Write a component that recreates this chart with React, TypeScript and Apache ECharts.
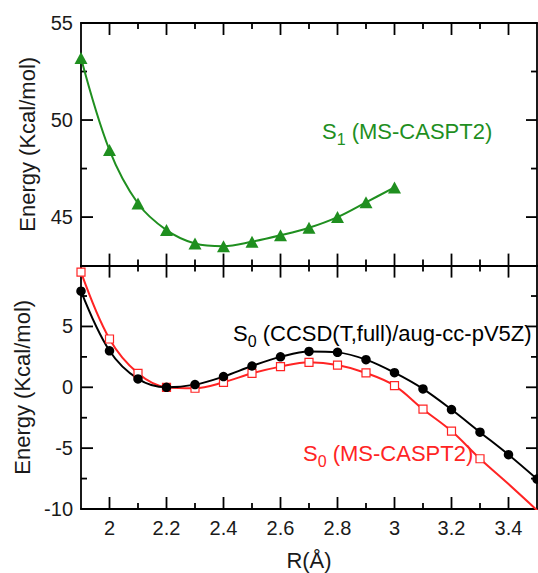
import { useEffect, useRef } from "react";
import * as echarts from "echarts";

// S1 (MS-CASPT2), green triangles
const s1X = [1.9, 2.0, 2.1, 2.2, 2.3, 2.4, 2.5, 2.6, 2.7, 2.8, 2.9, 3.0];
const s1Y = [53.2, 48.45, 45.7, 44.33, 43.64, 43.5, 43.73, 44.06, 44.45, 45.0, 45.76, 46.53];

// S0 CCSD(T,full)/aug-cc-pV5Z, black circles
const ccsdX = [1.9, 2.0, 2.1, 2.2, 2.3, 2.4, 2.5, 2.6, 2.7, 2.8, 2.9, 3.0, 3.1, 3.2, 3.3, 3.4, 3.5];
const ccsdY = [7.9, 3.0, 0.69, 0.0, 0.22, 0.88, 1.75, 2.5, 2.95, 2.87, 2.27, 1.2, -0.13, -1.83, -3.69, -5.54, -7.54];

// S0 MS-CASPT2, red open squares (markers) + line continuation without markers
const casX = [1.9, 2.0, 2.1, 2.2, 2.3, 2.4, 2.5, 2.6, 2.7, 2.8, 2.9, 3.0, 3.1, 3.2, 3.3];
const casY = [9.46, 3.97, 1.15, 0.0, -0.08, 0.41, 1.15, 1.7, 2.05, 1.83, 1.18, 0.14, -1.8, -3.6, -5.87];
const casTailX = [3.4, 3.5];
const casTailY = [-7.95, -10.1];

// ticks
const xMajor = [2, 2.2, 2.4, 2.6, 2.8, 3, 3.2, 3.4];
const xMinor = [2.1, 2.3, 2.5, 2.7, 2.9, 3.1, 3.3];
const topYMajor = [45, 50, 55];
const topYMinor = [47.5, 52.5];
const botYMajor = [-10, -5, 0, 5];
const botYMinor = [-7.5, -2.5, 2.5, 7.5];

const FONT = "Liberation Sans, Arial, Helvetica, sans-serif";
const GREEN = "#1f8f1f";
const RED = "#ff2424";
const INK = "#1a1a1a";

export default function App() {
  const ref = useRef<HTMLDivElement>(null);
  useEffect(() => {
    document.body.style.margin = "0";
    document.body.style.background = "#fff";
    const chart = echarts.init(ref.current!, null, { renderer: "svg" });

    const mkLine = () => ({ show: true, onZero: false, lineStyle: { color: "#000", width: 1.8 } });
    const labelStyle = () => ({ fontSize: 20, color: INK, fontFamily: FONT });
    const nameStyle = () => ({ fontSize: 22, color: INK, fontFamily: FONT });

    const mkX = (grid: number, pos: string, labels: boolean, name?: string) => ({
      type: "value",
      gridIndex: grid,
      position: pos,
      min: 1.9,
      max: 3.5,
      axisLine: mkLine(),
      splitLine: { show: false },
      axisTick: { show: false },
      axisLabel: labels ? { show: true, customValues: xMajor, margin: 9, ...labelStyle() } : { show: false },
      name: name || "",
      nameLocation: "middle",
      nameGap: 40,
      nameTextStyle: nameStyle(),
    });
    const mkY = (grid: number, pos: string, min: number, max: number, labels: number[] | null, name?: string) => ({
      type: "value",
      gridIndex: grid,
      position: pos,
      min,
      max,
      axisLine: mkLine(),
      splitLine: { show: false },
      axisTick: { show: false },
      axisLabel: labels ? { show: true, customValues: labels, margin: 8, ...labelStyle() } : { show: false },
      name: name || "",
      nameLocation: "middle",
      nameGap: 43,
      nameTextStyle: nameStyle(),
    });

    const xAxis = [
      mkX(0, "bottom", false),
      mkX(0, "top", false),
      mkX(1, "bottom", true, "R(Å)"),
      mkX(1, "top", false),
    ];
    const yAxis = [
      mkY(0, "left", 42.5, 55, topYMajor, "Energy (Kcal/mol)"),
      mkY(0, "right", 42.5, 55, null),
      mkY(1, "left", -10, 10, botYMajor.filter((v) => v < 10), "Energy (Kcal/mol)"),
      mkY(1, "right", -10, 10, null),
    ];

    const zip = (xs: number[], ys: number[]) => xs.map((x, i) => [x, ys[i]]);

    const casLine = [
      ...zip(casX, casY).map((v) => ({ value: v })),
      ...zip(casTailX, casTailY).map((v) => ({ value: v, symbol: "none" })),
    ];

    const TW = 1.8;
    // inward ticks on top and bottom edges of a grid, placed through the x scale
    const xTickSeries = (ai: number, yRef: number) => ({
      type: "custom",
      xAxisIndex: ai,
      yAxisIndex: ai,
      clip: false,
      data: [...xMajor.map((v) => [v, yRef, 1]), ...xMinor.map((v) => [v, yRef, 0])],
      renderItem: (params: any, api: any) => {
        const p = api.coord([api.value(0), api.value(1)]);
        const cs = params.coordSys;
        const len = api.value(2) === 1 ? 12 : 6;
        const x = p[0] - TW / 2;
        return {
          type: "group",
          children: [
            { type: "rect", shape: { x: x, y: cs.y + cs.height - len, width: TW, height: len }, style: { fill: "#000" } },
            { type: "rect", shape: { x: x, y: cs.y, width: TW, height: len }, style: { fill: "#000" } },
          ],
        };
      },
    });
    // inward ticks on left and right edges of a grid, placed through the y scale
    const yTickSeries = (ai: number, majors: number[], minors: number[]) => ({
      type: "custom",
      xAxisIndex: ai,
      yAxisIndex: ai,
      clip: false,
      data: [...majors.map((v) => [2.5, v, 1]), ...minors.map((v) => [2.5, v, 0])],
      renderItem: (params: any, api: any) => {
        const p = api.coord([api.value(0), api.value(1)]);
        const cs = params.coordSys;
        const major = api.value(2) === 1;
        const y = p[1] - TW / 2;
        const lenL = major ? 12 : 6;
        const lenR = major ? 11 : 6;
        return {
          type: "group",
          children: [
            { type: "rect", shape: { x: cs.x, y: y, width: lenL, height: TW }, style: { fill: "#000" } },
            { type: "rect", shape: { x: cs.x + cs.width - lenR, y: y, width: lenR, height: TW }, style: { fill: "#000" } },
          ],
        };
      },
    });

    const sub = (color: string) => ({
      a: { fontSize: 22, lineHeight: 26, fontFamily: FONT, fill: color, verticalAlign: "bottom" },
      s: { fontSize: 16, height: 5, lineHeight: 26, fontFamily: FONT, fill: color, verticalAlign: "bottom" },
    });

    const option = {
      animation: false,
      grid: [
        { left: 81, top: 23, width: 456, height: 242.6, outerBoundsMode: "none" },
        { left: 81, top: 265.6, width: 456, height: 243.4, outerBoundsMode: "none" },
      ],
      xAxis,
      yAxis,
      series: [
        xTickSeries(0, 50),
        xTickSeries(2, 0),
        yTickSeries(0, topYMajor, topYMinor),
        yTickSeries(2, botYMajor, botYMinor),
        {
          type: "line",
          xAxisIndex: 0,
          yAxisIndex: 0,
          data: zip(s1X, s1Y),
          smooth: 0.35,
          symbol: "triangle",
          symbolSize: [13, 12],
          lineStyle: { color: GREEN, width: 2 },
          itemStyle: { color: GREEN },
          clip: false,
        },
        {
          type: "line",
          xAxisIndex: 2,
          yAxisIndex: 2,
          data: casLine,
          smooth: 0.35,
          symbol: "rect",
          symbolSize: 8,
          showAllSymbol: true,
          lineStyle: { color: RED, width: 2 },
          itemStyle: { color: "#fff", borderColor: RED, borderWidth: 1.2 },
        },
        {
          type: "line",
          xAxisIndex: 2,
          yAxisIndex: 2,
          data: zip(ccsdX, ccsdY),
          smooth: 0.35,
          symbol: "circle",
          symbolSize: 9.5,
          showAllSymbol: true,
          lineStyle: { color: "#000", width: 2 },
          itemStyle: { color: "#000" },
          clip: false,
        },
      ],
      graphic: [
        {
          type: "text",
          left: 322,
          top: 120,
          style: { text: "{a|S}{s|1}{a| (MS-CASPT2)}", fill: GREEN, rich: sub(GREEN) },
        },
        {
          type: "text",
          left: 233,
          top: 322,
          style: { text: "{a|S}{s|0}{a| (CCSD(T,full)/aug-cc-pV5Z)}", fill: "#000", rich: sub("#000") },
        },
        {
          type: "text",
          left: 303,
          top: 442,
          style: { text: "{a|S}{s|0}{a| (MS-CASPT2)}", fill: RED, rich: sub(RED) },
        },
      ],
    };
    chart.setOption(option as any);
    return () => chart.dispose();
  }, []);
  return <div ref={ref} style={{ width: 538, height: 573 }} />;
}
